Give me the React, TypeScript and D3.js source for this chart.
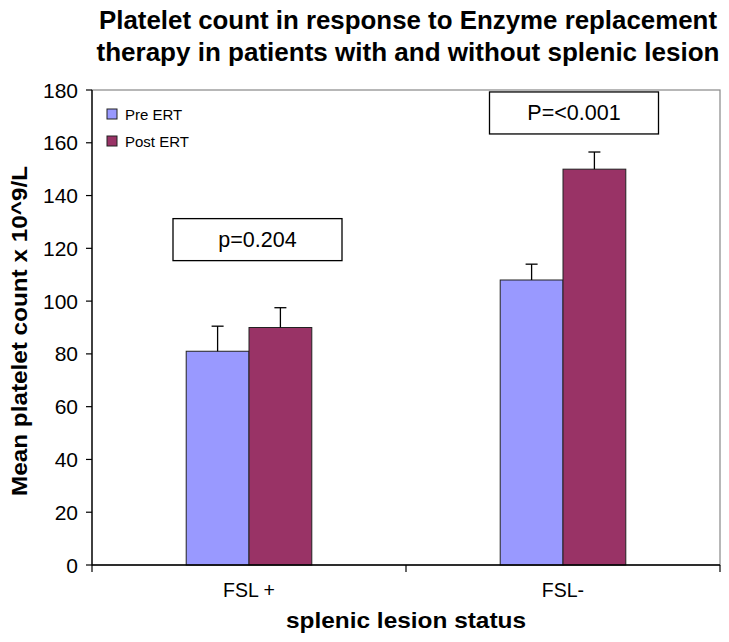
import React from "react";
import * as d3 from "d3";

const categories = ["FSL +", "FSL-"];
const seriesNames = ["Pre ERT", "Post ERT"];
const preValues = [81, 108];
const postValues = [90, 150];
const preErr = [9.5, 6];
const postErr = [7.5, 6.5];
const yTicks = [0, 20, 40, 60, 80, 100, 120, 140, 160, 180];
const pLabels = ["p=0.204", "P=<0.001"];
const pLevels = [123.3, 171.3];
const colors = ["#9999FF", "#993366"];

const W = 729;
const H = 642;
const M = { left: 92, right: 720, top: 90, bottom: 565 };
const FONT = "Liberation Sans, Arial, Helvetica, sans-serif";

export default function App() {
  const x = d3.scaleBand<string>().domain(categories).range([M.left, M.right]);
  const inner = d3.scaleBand<string>().domain(seriesNames).range([0, x.bandwidth() * 0.4]);
  const y = d3.scaleLinear().domain([0, 180]).range([M.bottom, M.top]);
  const groupOffset = x.bandwidth() * 0.3;
  const series = [
    { name: seriesNames[0], values: preValues, err: preErr, color: colors[0] },
    { name: seriesNames[1], values: postValues, err: postErr, color: colors[1] },
  ];
  const capW = 6;
  const boxOffsets = [8.5, 11];
  return (
    <svg width={W} height={H} style={{ position: "absolute", left: 0, top: 0 }} fontFamily={FONT}>
      <rect x={0} y={0} width={W} height={H} fill="#fff" />
      <text x={408} y={29} textAnchor="middle" fontWeight="bold" fontSize={25} textLength={618} lengthAdjust="spacingAndGlyphs">
        Platelet count in response to Enzyme replacement
      </text>
      <text x={408} y={61} textAnchor="middle" fontWeight="bold" fontSize={25} textLength={623} lengthAdjust="spacingAndGlyphs">
        therapy in patients with and without splenic lesion
      </text>
      {/* plot frame */}
      <rect x={M.left} y={M.top} width={M.right - M.left} height={M.bottom - M.top} fill="none" stroke="#888" strokeWidth={1.2} />
      {/* bars */}
      {series.map((s) =>
        categories.map((c, i) => {
          const bx = (x(c) as number) + groupOffset + (inner(s.name) as number);
          const bw = inner.bandwidth();
          const top = y(s.values[i]);
          const et = y(s.values[i] + s.err[i]);
          const cx = bx + bw / 2;
          return (
            <g key={s.name + c}>
              <rect x={bx} y={top} width={bw} height={M.bottom - top} fill={s.color} stroke="#222" strokeWidth={1} />
              <line x1={cx} x2={cx} y1={top} y2={et} stroke="#000" strokeWidth={1.3} />
              <line x1={cx - capW} x2={cx + capW} y1={et} y2={et} stroke="#000" strokeWidth={1.3} />
            </g>
          );
        })
      )}
      {/* axes */}
      <line x1={M.left} x2={M.left} y1={M.top} y2={M.bottom} stroke="#000" strokeWidth={1.3} />
      <line x1={M.left} x2={M.right} y1={M.bottom} y2={M.bottom} stroke="#000" strokeWidth={1.3} />
      {yTicks.map((t) => (
        <g key={t}>
          <line x1={M.left - 6} x2={M.left} y1={y(t)} y2={y(t)} stroke="#000" strokeWidth={1.2} />
          <text x={78} y={y(t) + 7.5} textAnchor="end" fontSize={21}>
            {t}
          </text>
        </g>
      ))}
      {[M.left, ...categories.map((c) => (x(c) as number) + x.bandwidth())].map((tx, i) => (
        <line key={i} x1={tx} x2={tx} y1={M.bottom} y2={M.bottom + 7} stroke="#000" strokeWidth={1.2} />
      ))}
      {categories.map((c) => (
        <text key={c} x={(x(c) as number) + x.bandwidth() / 2} y={597} textAnchor="middle" fontSize={19.5}>
          {c}
        </text>
      ))}
      <text x={406} y={628} textAnchor="middle" fontWeight="bold" fontSize={22.5} textLength={240} lengthAdjust="spacingAndGlyphs">
        splenic lesion status
      </text>
      <text transform={`translate(27,${331}) rotate(-90)`} textAnchor="middle" fontWeight="bold" fontSize={22} textLength={330} lengthAdjust="spacingAndGlyphs">
        Mean platelet count x 10^9/L
      </text>
      {/* p-value boxes */}
      {categories.map((c, i) => {
        const cx = (x(c) as number) + x.bandwidth() / 2 + boxOffsets[i];
        const cy = y(pLevels[i]);
        const bw = 169;
        const bh = 42;
        return (
          <g key={"p" + c}>
            <rect x={cx - bw / 2} y={cy - bh / 2} width={bw} height={bh} fill="#fff" stroke="#000" strokeWidth={1.3} />
            <text x={cx} y={cy + 7.5} textAnchor="middle" fontSize={21.5}>
              {pLabels[i]}
            </text>
          </g>
        );
      })}
      {/* legend */}
      {series.map((s, i) => (
        <g key={"lg" + s.name} transform={`translate(107,${109 + i * 27})`}>
          <rect x={0} y={0} width={10} height={10} fill={s.color} stroke="#222" strokeWidth={1} />
          <text x={18} y={10.5} fontSize={15}>
            {s.name}
          </text>
        </g>
      ))}
    </svg>
  );
}
